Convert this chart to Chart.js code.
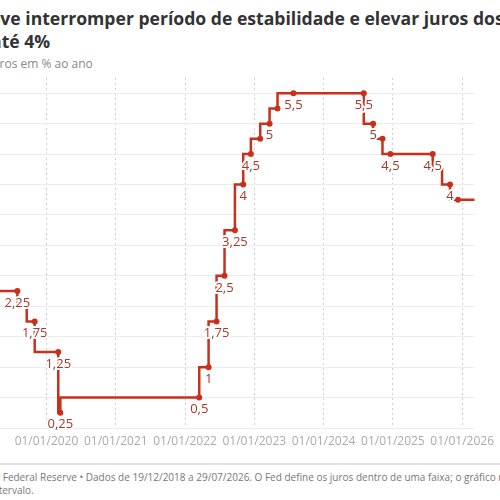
<!DOCTYPE html>
<html>
<head>
<meta charset="utf-8">
<script src="https://cdn.jsdelivr.net/npm/chart.js@4"></script>
<style>
  html, body { margin: 0; padding: 0; width: 500px; height: 500px; overflow: hidden; background: #fff; font-family: "Open Sans", sans-serif; }
  .t { position: absolute; white-space: nowrap; }
  .title { font-weight: 700; font-size: 17.6px; color: #333; }
  .sub { font-size: 12px; color: #888; }
  .foot { font-size: 10px; color: #777; }
  #wrap { position: absolute; left: 0; top: 60px; width: 500px; height: 400px; }
  #sep { position: absolute; left: 0; top: 463px; width: 500px; height: 2px; background: #e2e2e2; }
</style>
</head>
<body>
<div class="t title" id="t1" data-cut="Fed de" data-x="0" style="top:6px">Fed deve interromper período de estabilidade e elevar juros dos EUA</div>
<div class="t title" id="t2" data-cut="a" data-x="2" style="top:29px">até 4%</div>
<div class="t sub" id="s1" data-cut="Ju" data-x="0" style="top:55px">Juros em % ao ano</div>
<div id="wrap"><canvas id="fedChart"></canvas></div>
<div id="sep"></div>
<div class="t foot" id="f1" data-cut="Fonte: " data-x="0" style="top:470px">Fonte: Federal Reserve • Dados de 19/12/2018 a 29/07/2026. O Fed define os juros dentro de uma faixa; o gráfico mostra o limite superior do</div>
<div class="t foot" id="f2" data-cut="in" data-x="-1" style="top:483px">intervalo.</div>
<script>
// Fed funds upper limit, decimal year of each decision
const dates  = [2018.967, 2019.58, 2019.715, 2019.83, 2020.17, 2020.20, 2022.205, 2022.34, 2022.455, 2022.57, 2022.72, 2022.84, 2022.95, 2023.085, 2023.22, 2023.335, 2023.565, 2024.58, 2024.715, 2024.85, 2024.965, 2025.575, 2025.71, 2025.825, 2025.94, 2026.57];
const rates  = [2.5, 2.25, 2.0, 1.75, 1.25, 0.25, 0.5, 1.0, 1.75, 2.5, 3.25, 4.0, 4.5, 4.75, 5.0, 5.25, 5.5, 5.5, 5.0, 4.75, 4.5, 4.5, 4.25, 4.0, 3.75, 3.75];
const dotted = [0, 1, 0, 1, 1, 1, 1, 1, 1, 1, 1, 1, 1, 1, 1, 1, 1, 1, 1, 1, 1, 1, 0, 1, 1, 0];
const labeled= [0, 1, 0, 1, 1, 1, 1, 1, 1, 1, 1, 1, 1, 0, 1, 0, 1, 1, 1, 0, 1, 1, 0, 1, 0, 0];
const yearTicks = [2020, 2021, 2022, 2023, 2024, 2025, 2026];

// shift cropped text lines so the cut prefix sits outside the window
document.querySelectorAll('.t').forEach(el => {
    const m = document.createElement('span');
    m.className = el.className; m.style.position = 'absolute'; m.style.visibility = 'hidden';
    m.textContent = el.dataset.cut;
    document.body.appendChild(m);
    el.style.left = (parseFloat(el.dataset.x) - m.offsetWidth) + 'px';
    m.remove();
});

const lineColor = '#c9301c';
const labelColor = '#a8382b';

const valueLabels = {
    id: 'valueLabels',
    afterDatasetsDraw(chart) {
        const ctx = chart.ctx;
        const meta = chart.getDatasetMeta(0);
        ctx.save();
        ctx.font = '13px "Open Sans"';
        ctx.textAlign = 'center';
        ctx.textBaseline = 'middle';
        ctx.lineJoin = 'round';
        meta.data.forEach((p, i) => {
            if (!labeled[i]) return;
            const txt = String(rates[i]).replace('.', ',');
            ctx.strokeStyle = '#fff';
            ctx.lineWidth = 4;
            ctx.strokeText(txt, p.x, p.y + 12);
            ctx.fillStyle = labelColor;
            ctx.fillText(txt, p.x, p.y + 12);
        });
        ctx.restore();
    }
};

const ctx = document.getElementById('fedChart').getContext('2d');
new Chart(ctx, {
    type: 'line',
    data: {
        datasets: [{
            data: dates.map((d, i) => ({ x: d, y: rates[i] })),
            stepped: 'after',
            borderColor: lineColor,
            backgroundColor: lineColor,
            borderWidth: 2.5,
            pointRadius: dotted.map(v => v ? 3 : 0),
            pointBackgroundColor: lineColor,
            pointBorderWidth: 0,
            fill: false
        }]
    },
    options: {
        responsive: true,
        maintainAspectRatio: false,
        animation: false,
        events: [],
        layout: { padding: { top: 18, left: 0, right: 0, bottom: 0 } },
        plugins: { legend: { display: false }, tooltip: { enabled: false } },
        scales: {
            x: {
                type: 'linear',
                min: 2019.329,
                max: 2026.178,
                afterBuildTicks: s => { s.ticks = yearTicks.map(v => ({ value: v })); },
                afterFit: s => { s.height = 32; },
                grid: { color: '#cfcfcf', drawTicks: false },
                border: { display: false, dash: [2, 3] },
                ticks: {
                    autoSkip: false, maxRotation: 0, padding: 6,
                    color: '#aaa', font: { family: 'Open Sans', size: 12 },
                    callback: v => '01/01/' + v
                }
            },
            y: {
                min: 0,
                max: 5.75,
                afterBuildTicks: s => { s.ticks = s.ticks.filter(t => Math.abs(t.value * 2 - Math.round(t.value * 2)) < 1e-6); },
                afterFit: s => { s.width = 0; },
                ticks: { display: false, stepSize: 0.5 },
                grid: { color: '#ececec', drawTicks: false },
                border: { display: false }
            }
        }
    },
    plugins: [valueLabels]
});
</script>
</body>
</html>
